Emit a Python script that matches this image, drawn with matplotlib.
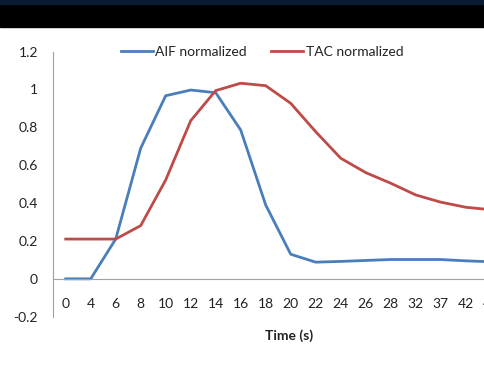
import matplotlib.pyplot as plt
from matplotlib.patches import Rectangle

# time points (s) and normalized curves
times = ["0", "4", "6", "8", "10", "12", "14", "16", "18", "20", "22", "24",
         "26", "28", "32", "37", "42", "47"]
aif = [0.0, 0.0, 0.21, 0.69, 0.967, 0.997, 0.983, 0.786, 0.39, 0.13, 0.088,
       0.092, 0.097, 0.102, 0.102, 0.102, 0.095, 0.09]
tac = [0.21, 0.21, 0.21, 0.281, 0.522, 0.835, 0.994, 1.033, 1.02, 0.927,
       0.777, 0.637, 0.561, 0.505, 0.443, 0.405, 0.378, 0.365]
yticks = [-0.2, 0, 0.2, 0.4, 0.6, 0.8, 1, 1.2]
ylabels = ["-0.2", "0", "0.2", "0.4", "0.6", "0.8", "1", "1.2"]

plt.rcParams['font.family'] = ['Lato', 'DejaVu Sans']

W, H = 485, 381
fig = plt.figure(figsize=(W / 100, H / 100), dpi=100)

# dark band at the top
fig.patches.append(Rectangle((0, 1 - 27 / H), 1, 27 / H, transform=fig.transFigure,
                             color='black', zorder=0))
fig.patches.append(Rectangle((0, 1 - 4 / H), 1, 4 / H, transform=fig.transFigure,
                             color='#0b1a33', zorder=1))

left, right = 53.2, 53.2 + 18 * 25
top, bottom = 51.6, 316.7
ax = fig.add_axes([left / W, 1 - bottom / H, (right - left) / W, (bottom - top) / H])

x = list(range(len(times)))
ax.plot(x, aif, color='#4a7ebb', lw=2.0, label='AIF normalized')
ax.plot(x, tac, color='#be4b48', lw=2.0, label='TAC normalized')

ax.set_xlim(-0.5, len(times) - 0.5)
ax.set_ylim(-0.2, 1.2)
ax.set_xticks(x)
ax.set_xticklabels(times)
ax.set_yticks(yticks)
ax.set_yticklabels(ylabels)

for s in ['top', 'right']:
    ax.spines[s].set_visible(False)
ax.spines['bottom'].set_position(('data', 0))
ax.spines['bottom'].set_color('#a0a0a0')
ax.spines['left'].set_color('#a0a0a0')
ax.tick_params(axis='x', length=0, pad=14, labelsize=10, colors='#222222')
ax.tick_params(axis='y', length=0, pad=11, labelsize=10, colors='#222222')

fig.text(289 / W, 1 - 336 / H, "Time (s)", ha='center', va='center',
         fontsize=10, fontweight='bold', color='#222222')

fig.legend(loc='center', bbox_to_anchor=(262 / W, 1 - 52 / H), ncol=2,
           frameon=False, fontsize=10, handlelength=2.3, handletextpad=0.15,
           columnspacing=1.8, labelcolor='#222222')

fig.savefig('out.png', dpi=100)
